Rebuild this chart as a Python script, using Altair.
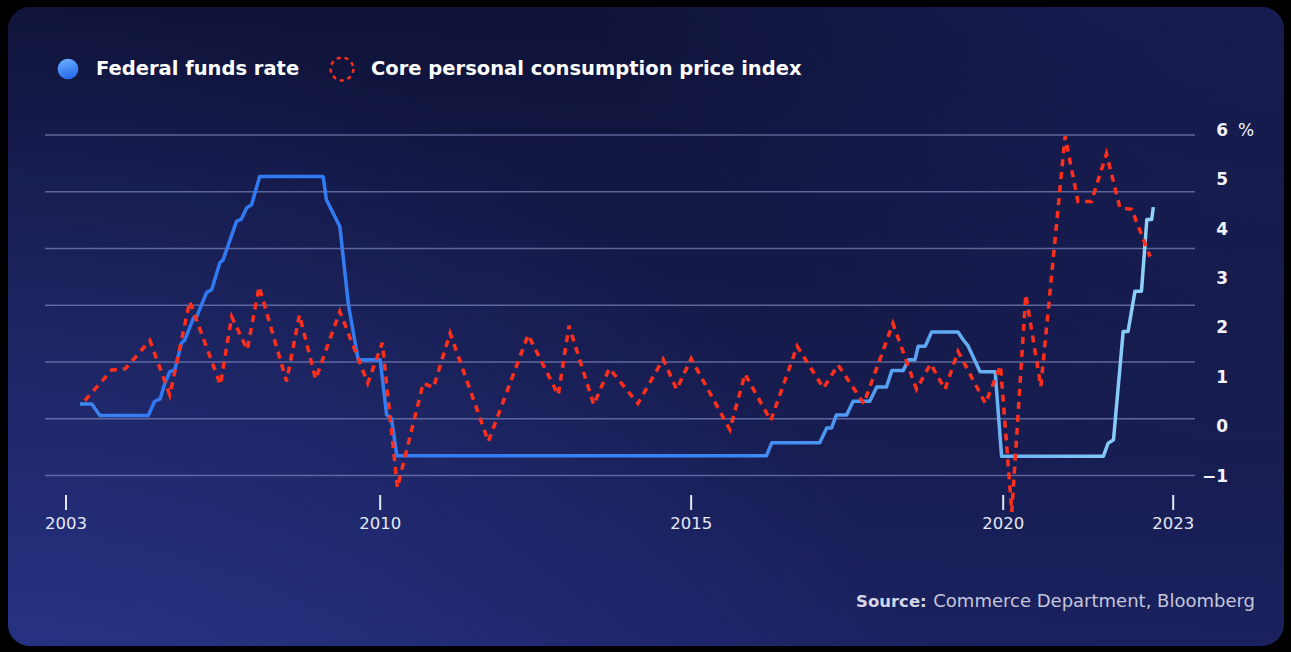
import altair as alt
import pandas as pd

# ---------------------------------------------------------------------------
# Data (decimal year, percent)
# ---------------------------------------------------------------------------
fed_year = [
    2003.15, 2003.37, 2003.52, 2004.42, 2004.54, 2004.64, 2004.73, 2004.82,
    2004.91, 2005.04, 2005.10, 2005.26, 2005.32, 2005.50, 2005.60, 2005.75,
    2005.81, 2006.06, 2006.15, 2006.25, 2006.34, 2006.49, 2007.67, 2007.73,
    2007.98, 2008.14, 2008.32, 2008.73, 2008.85, 2008.94, 2009.04, 2015.91,
    2016.01, 2016.90, 2017.03, 2017.12, 2017.21, 2017.40, 2017.52, 2017.83,
    2017.96, 2018.14, 2018.24, 2018.45, 2018.55, 2018.67, 2018.73, 2018.86,
    2018.98, 2019.47, 2019.57, 2019.66, 2019.88, 2020.16, 2020.28, 2022.17,
    2022.26, 2022.36, 2022.54, 2022.63, 2022.76, 2022.88, 2022.98, 2023.07,
    2023.10,
]
fed_rate = [
    1.26, 1.26, 1.06, 1.06, 1.31, 1.35, 1.63, 1.83,
    1.86, 2.34, 2.39, 2.78, 2.80, 3.22, 3.28, 3.75,
    3.80, 4.48, 4.52, 4.72, 4.77, 5.27, 5.27, 4.86,
    4.39, 3.01, 2.04, 2.04, 1.07, 1.01, 0.35, 0.35,
    0.58, 0.58, 0.84, 0.84, 1.07, 1.07, 1.31, 1.31,
    1.56, 1.56, 1.85, 1.85, 2.04, 2.04, 2.28, 2.28,
    2.53, 2.53, 2.39, 2.28, 1.83, 1.83, 0.34, 0.34,
    0.57, 0.63, 2.54, 2.54, 3.25, 3.25, 4.51, 4.51,
    4.73,
]

pce_year = [
    2003.24, 2003.74, 2003.99, 2004.45, 2004.82, 2005.19, 2005.76, 2005.97,
    2006.26, 2006.48, 2006.99, 2007.23, 2007.53, 2007.98, 2008.50, 2008.77,
    2009.05, 2009.53, 2009.72, 2010.03, 2010.74, 2011.48, 2012.04, 2012.24,
    2012.70, 2012.99, 2013.52, 2013.99, 2014.24, 2014.51, 2015.23, 2015.51,
    2015.99, 2016.48, 2016.97, 2017.24, 2017.72, 2018.26, 2018.70, 2018.96,
    2019.23, 2019.47, 2019.98, 2020.26, 2020.47, 2020.73, 2021.01, 2021.46,
    2021.70, 2021.95, 2022.23, 2022.48, 2022.70, 2023.04,
]
pce_value = [
    1.32, 1.86, 1.88, 2.38, 1.42, 3.07, 1.60, 2.80,
    2.22, 3.33, 1.66, 2.83, 1.70, 2.89, 1.63, 2.34,
    -0.21, 1.63, 1.55, 2.51, 0.60, 2.48, 1.42, 2.64,
    1.25, 1.89, 1.27, 2.05, 1.52, 2.06, 0.81, 1.79,
    0.97, 2.28, 1.54, 1.95, 1.27, 2.68, 1.52, 1.97,
    1.52, 2.19, 1.27, 1.94, -0.64, 3.19, 1.57, 5.98,
    4.83, 4.83, 5.67, 4.72, 4.69, 3.86,
]

series_names = ["Federal funds rate", "Core personal consumption price index"]
grid_levels = [0, 1, 2, 3, 4, 5, 6]
pct_labels = [-1, 0, 1, 2, 3, 4, 5, 6]
year_labels = ["2003", "2010", "2015", "2020", "2023"]
year_label_at = [2002.89, 2008.73, 2014.51, 2020.31, 2023.47]
source_bold = "Source:"
source_rest = "Commerce Department, Bloomberg"

# ---------------------------------------------------------------------------
# Layout
# ---------------------------------------------------------------------------
W, H = 1150, 386
PAD_L, PAD_T = 45, 118
FONT = "DejaVu Sans"

x_scale = alt.Scale(domain=[2002.5, 2023.875], nice=False, zero=False)
y_scale = alt.Scale(domain=[-0.5, 6.3], nice=False, zero=False)
lab_scale = alt.Scale(domain=[-1.552, 6.257], nice=False, zero=False)

fed_df = pd.DataFrame({"i": range(len(fed_year)), "t": fed_year, "v": fed_rate})
pce_df = pd.DataFrame({"i": range(len(pce_year)), "t": pce_year, "v": pce_value})
one = alt.Data(values=[{"k": 0}])


def grad(stops, x1=0, y1=0, x2=0, y2=1):
    return alt.LinearGradient(
        gradient="linear",
        stops=[alt.GradientStop(color=c, offset=o) for o, c in stops],
        x1=x1, y1=y1, x2=x2, y2=y2,
    )


def rgrad(stops, cx, cy, r):
    return alt.RadialGradient(
        gradient="radial",
        stops=[alt.GradientStop(color=c, offset=o) for o, c in stops],
        x1=cx, y1=cy, r1=0, x2=cx, y2=cy, r2=r,
    )


card_box = dict(
    x=alt.value(8 - PAD_L), x2=alt.value(1284 - PAD_L),
    y=alt.value(7 - PAD_T), y2=alt.value(646 - PAD_T),
)

card = alt.Chart(one).mark_rect(
    cornerRadius=22,
    color=grad([(0, "#0f1339"), (0.55, "#161c4e"), (1, "#1b2262")], x1=0.3, y1=0, x2=0.2, y2=1),
).encode(**card_box)

glow_bl = alt.Chart(one).mark_rect(
    cornerRadius=22,
    color=rgrad([(0, "rgba(48,62,155,0.8)"), (1, "rgba(48,62,155,0)")], 0.0, 1.0, 0.75),
).encode(**card_box)

glow_tr = alt.Chart(one).mark_rect(
    cornerRadius=22,
    color=rgrad([(0, "rgba(40,50,130,0.55)"), (1, "rgba(40,50,130,0)")], 1.0, 0.0, 0.6),
).encode(**card_box)

grid = alt.Chart(pd.DataFrame({"g": grid_levels})).mark_rule(
    color="#7c86bd", strokeWidth=1.5, opacity=0.7
).encode(
    y=alt.Y("g:Q", scale=y_scale, axis=None),
    x=alt.value(0), x2=alt.value(W),
)

fed_line = alt.Chart(fed_df).mark_line(
    strokeWidth=3.5,
    strokeJoin="round",
    color=grad(
        [(0, "#4088ee"), (0.08, "#2f78f4"), (0.6, "#3a84f2"), (0.85, "#68b0f3"), (1, "#8fd2f8")],
        x1=0, y1=0, x2=1, y2=0,
    ),
).encode(
    x=alt.X("t:Q", scale=x_scale, axis=None),
    y=alt.Y("v:Q", scale=y_scale, axis=None),
    order="i:Q",
)

pce_line = alt.Chart(pce_df).mark_line(
    color="#ff2f1c", strokeWidth=3.5, strokeDash=[7, 6], strokeJoin="miter",
).encode(
    x=alt.X("t:Q", scale=x_scale, axis=None),
    y=alt.Y("v:Q", scale=y_scale, axis=None),
    order="i:Q",
)

# x axis: short ticks and year labels
year_df = pd.DataFrame({"t": year_label_at, "label": year_labels})
year_ticks = alt.Chart(year_df).mark_rule(color="#e6e8f5", strokeWidth=2).encode(
    x=alt.X("t:Q", scale=x_scale, axis=None),
    y=alt.value(495 - PAD_T), y2=alt.value(510 - PAD_T),
)
year_text = alt.Chart(year_df).mark_text(
    font=FONT, fontSize=16.5, color="#e6e8f5", baseline="middle", align="center",
).encode(
    x=alt.X("t:Q", scale=x_scale, axis=None),
    y=alt.value(524 - PAD_T),
    text="label:N",
)

# y labels on the right
pct_df = pd.DataFrame({"p": pct_labels})
pct_text = alt.Chart(pct_df).mark_text(
    font=FONT, fontSize=17, fontWeight="bold", color="#f2f3fa", align="right", baseline="middle",
).encode(
    y=alt.Y("p:Q", scale=lab_scale, axis=None),
    x=alt.value(1228 - PAD_L),
    text="p:Q",
)
pct_unit = alt.Chart(pd.DataFrame({"p": [max(pct_labels)], "u": ["%"]})).mark_text(
    font=FONT, fontSize=17, color="#f2f3fa", align="center", baseline="middle",
).encode(
    y=alt.Y("p:Q", scale=lab_scale, axis=None),
    x=alt.value(1246 - PAD_L),
    text="u:N",
)

# legend
leg_y = 69 - PAD_T
leg_fed_dot = alt.Chart(one).mark_circle(
    size=430, opacity=1,
    color=grad([(0, "#6aaeff"), (1, "#2466e6")], x1=0.3, y1=0, x2=0.6, y2=1),
).encode(x=alt.value(68 - PAD_L), y=alt.value(leg_y))
leg_pce_dot = alt.Chart(one).mark_point(
    shape="circle", size=520, filled=False, color="#ff2f1c", strokeWidth=2.5,
    strokeDash=[4, 4], opacity=1,
).encode(x=alt.value(342 - PAD_L), y=alt.value(leg_y))
leg_fed_text = alt.Chart(alt.Data(values=[{"s": series_names[0]}])).mark_text(
    font=FONT, fontSize=19.5, fontWeight="bold", color="#ffffff", align="left", baseline="middle",
).encode(x=alt.value(96 - PAD_L), y=alt.value(leg_y), text="s:N")
leg_pce_text = alt.Chart(alt.Data(values=[{"s": series_names[1]}])).mark_text(
    font=FONT, fontSize=19.5, fontWeight="bold", color="#ffffff", align="left", baseline="middle",
).encode(x=alt.value(371 - PAD_L), y=alt.value(leg_y), text="s:N")

# source note
src_y = 602 - PAD_T
src_a = alt.Chart(alt.Data(values=[{"s": source_bold}])).mark_text(
    font=FONT, fontSize=16.5, fontWeight="bold", color="#d4d6e6", align="left", baseline="middle",
).encode(x=alt.value(856 - PAD_L), y=alt.value(src_y), text="s:N")
src_b = alt.Chart(alt.Data(values=[{"s": source_rest}])).mark_text(
    font=FONT, fontSize=18, color="#c4c7dc", align="right", baseline="middle",
).encode(x=alt.value(1255 - PAD_L), y=alt.value(src_y), text="s:N")

chart = alt.layer(
    card, glow_bl, glow_tr, grid, fed_line, pce_line,
    year_ticks, year_text, pct_text, pct_unit,
    leg_fed_dot, leg_pce_dot, leg_fed_text, leg_pce_text, src_a, src_b,
).resolve_scale(y="independent").properties(
    width=W, height=H,
    autosize=alt.AutoSizeParams(type="none"),
    padding={"left": PAD_L, "top": PAD_T, "right": 1291 - PAD_L - W, "bottom": 652 - PAD_T - H},
    background="#000000",
).configure_view(stroke=None)

chart.save("out.html", embed_options={"renderer": "svg", "actions": False})
